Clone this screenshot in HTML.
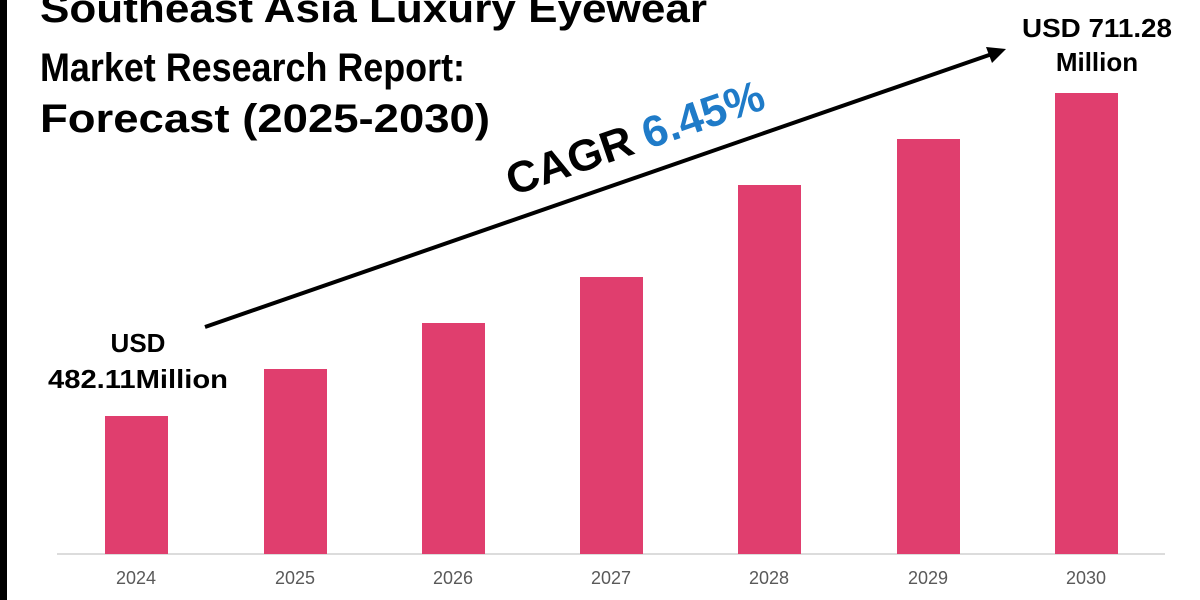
<!DOCTYPE html>
<html><head><meta charset="utf-8"><style>
html,body{margin:0;padding:0;background:#fff;}
body{width:1200px;height:600px;overflow:hidden;position:relative;font-family:"Liberation Sans",sans-serif;}
</style></head><body>
<svg width="1200" height="600" viewBox="0 0 1200 600" xmlns="http://www.w3.org/2000/svg" style="position:absolute;left:0;top:0">
<rect x="0" y="0" width="7" height="600" fill="#000"/>
<g font-family="Liberation Sans, sans-serif" font-weight="bold" font-size="40" fill="#000">
<text x="40" y="22" textLength="667" lengthAdjust="spacingAndGlyphs">Southeast Asia Luxury Eyewear</text>
<text x="40" y="81" textLength="425" lengthAdjust="spacingAndGlyphs">Market Research Report:</text>
<text x="40" y="132" textLength="450" lengthAdjust="spacingAndGlyphs">Forecast (2025-2030)</text>
</g>
<line x1="57" y1="554" x2="1165" y2="554" stroke="#d0d0d0" stroke-width="1.5"/>
<g fill="#e03e6e">
<rect x="105" y="416" width="63" height="138"/>
<rect x="264" y="369" width="63" height="185"/>
<rect x="422" y="323" width="63" height="231"/>
<rect x="580" y="277" width="63" height="277"/>
<rect x="738" y="185" width="63" height="369"/>
<rect x="897" y="139" width="63" height="415"/>
<rect x="1055" y="93" width="63" height="461"/>
</g>
<g font-size="18" fill="#595959" text-anchor="middle" font-family="Liberation Sans, sans-serif">
<text x="136" y="584">2024</text><text x="295" y="584">2025</text><text x="453" y="584">2026</text>
<text x="611" y="584">2027</text><text x="769" y="584">2028</text><text x="928" y="584">2029</text><text x="1086" y="584">2030</text>
</g>
<line x1="205" y1="327" x2="992" y2="54" stroke="#000" stroke-width="4"/>
<polygon points="1006,49 986,47 992,63" fill="#000"/>
<g font-family="Liberation Sans, sans-serif" font-weight="bold" font-size="26" fill="#000" text-anchor="middle">
<text x="138" y="352">USD</text>
<text x="138" y="388" textLength="180" lengthAdjust="spacingAndGlyphs">482.11Million</text>
<text x="1097" y="37" textLength="150" lengthAdjust="spacingAndGlyphs">USD 711.28</text>
<text x="1097" y="71">Million</text>
</g>
<text transform="translate(640,152) rotate(-19)" text-anchor="middle" font-family="Liberation Sans, sans-serif" font-weight="bold" font-size="44" fill="#000" textLength="270" lengthAdjust="spacingAndGlyphs">CAGR <tspan fill="#1f7bc8">6.45%</tspan></text>
</svg>
</body></html>
